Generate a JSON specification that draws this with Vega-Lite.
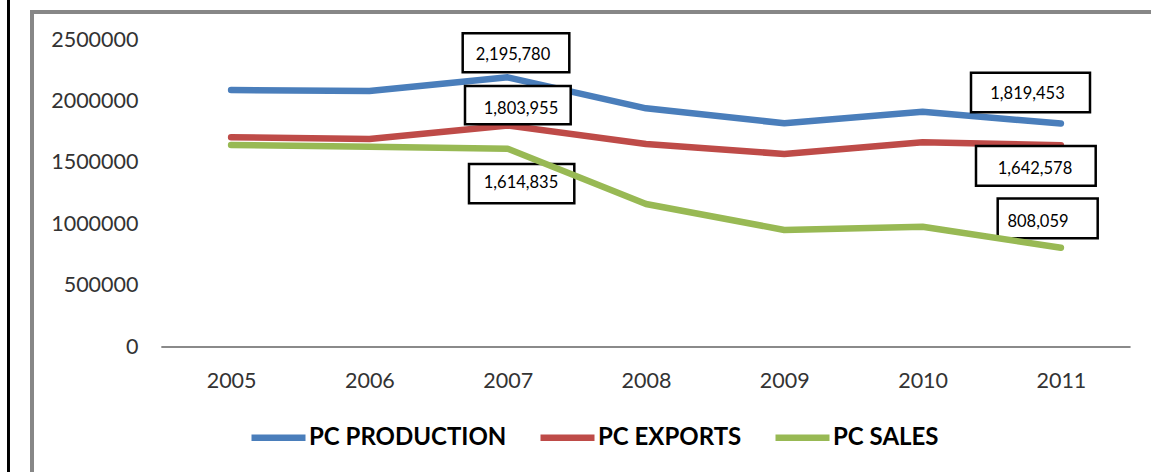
{
  "$schema": "https://vega.github.io/schema/vega-lite/v6.json",
  "autosize": "none",
  "padding": {"left": 32, "top": 12, "right": 0, "bottom": 0},
  "width": 1119,
  "height": 460,
  "background": "white",
  "config": {
    "view": {"stroke": null},
    "axis": {"domain": false, "ticks": false, "grid": false, "labelFont": "Lato", "labelFontSize": 21.5, "labelColor": "#333333", "title": null, "labelPadding": 0}
  },
  "data": {
    "values": [
      {"year": 2005, "series": "PC PRODUCTION", "value": 2092800},
      {"year": 2006, "series": "PC PRODUCTION", "value": 2084700},
      {"year": 2007, "series": "PC PRODUCTION", "value": 2195780},
      {"year": 2008, "series": "PC PRODUCTION", "value": 1943800},
      {"year": 2009, "series": "PC PRODUCTION", "value": 1821700},
      {"year": 2010, "series": "PC PRODUCTION", "value": 1916100},
      {"year": 2011, "series": "PC PRODUCTION", "value": 1819453},
      {"year": 2005, "series": "PC EXPORTS", "value": 1707700},
      {"year": 2006, "series": "PC EXPORTS", "value": 1693800},
      {"year": 2007, "series": "PC EXPORTS", "value": 1803955},
      {"year": 2008, "series": "PC EXPORTS", "value": 1653100},
      {"year": 2009, "series": "PC EXPORTS", "value": 1571700},
      {"year": 2010, "series": "PC EXPORTS", "value": 1666900},
      {"year": 2011, "series": "PC EXPORTS", "value": 1642578},
      {"year": 2005, "series": "PC SALES", "value": 1645000},
      {"year": 2006, "series": "PC SALES", "value": 1631100},
      {"year": 2007, "series": "PC SALES", "value": 1614835},
      {"year": 2008, "series": "PC SALES", "value": 1164500},
      {"year": 2009, "series": "PC SALES", "value": 952800},
      {"year": 2010, "series": "PC SALES", "value": 979600},
      {"year": 2011, "series": "PC SALES", "value": 808059}
    ]
  },
  "encoding": {
    "x": {"field": "year", "type": "quantitative",
      "scale": {"domain": [2003.5604, 2011.6515], "nice": false, "zero": false},
      "axis": {"orient": "bottom", "offset": -91, "values": [2005, 2006, 2007, 2008, 2009, 2010, 2011], "format": "d", "labelBaseline": "middle", "labelFlush": false, "labelOverlap": false}},
    "y": {"field": "value", "type": "quantitative",
      "scale": {"domain": [-1017915, 2728013], "nice": false, "zero": false},
      "axis": {"orient": "left", "offset": -106, "values": [0, 500000, 1000000, 1500000, 2000000, 2500000], "format": "d", "labelFlush": false, "labelOverlap": false}}
  },
  "layer": [
    {
      "mark": {"type": "rule", "stroke": "#000000", "strokeWidth": 2, "clip": false},
      "encoding": {
        "x": {"datum": 2003.388},
        "y": {"datum": 2830000},
        "y2": {"datum": -1017915}
      }
    },
    {
      "mark": {"type": "rule", "stroke": "#878787", "strokeWidth": 4, "strokeCap": "square"},
      "encoding": {
        "x": {"datum": 2003.5604},
        "y": {"datum": 2728013},
        "y2": {"datum": -1017915}
      }
    },
    {
      "mark": {"type": "rule", "stroke": "#878787", "strokeWidth": 4, "strokeCap": "square"},
      "encoding": {
        "x": {"datum": 2003.5604},
        "x2": {"datum": 2011.6515},
        "y": {"datum": 2728013}
      }
    },
    {
      "mark": {"type": "rule", "stroke": "#8a8a8a", "strokeWidth": 1.5},
      "encoding": {
        "x": {"datum": 2004.5},
        "x2": {"datum": 2011.5},
        "y": {"datum": 0}
      }
    },
    {
      "transform": [{"filter": "datum.series !== 'PC SALES'"}],
      "mark": {"type": "line", "strokeWidth": 6.5, "strokeCap": "round", "strokeJoin": "round"},
      "encoding": {
        "color": {"field": "series", "type": "nominal",
          "scale": {"domain": ["PC PRODUCTION", "PC EXPORTS", "PC SALES"], "range": ["#4A7EBB", "#BE4B48", "#98B954"]},
          "legend": {"orient": "none", "legendX": 216, "legendY": 395, "direction": "horizontal", "columns": 3, "title": null,
            "symbolType": "stroke", "symbolSize": 2916, "symbolStrokeWidth": 6.5, "labelFont": "Lato", "labelFontSize": 24,
            "labelFontWeight": "bold", "labelColor": "#000000", "labelOffset": 0, "labelLimit": 0, "columnPadding": 20, "padding": 0}}
      }
    },
    {
      "transform": [{"filter": "datum.year === 2007 && datum.series === 'PC PRODUCTION'"}],
      "layer": [
        {"mark": {"type": "point", "shape": "M-0.9,-0.882L1.232,-0.882L1.232,-0.102L-0.9,-0.102Z", "size": 10000, "filled": true, "fill": "white", "stroke": "black", "strokeWidth": 2.5, "opacity": 1}},
        {"mark": {"type": "text", "font": "Lato", "fontSize": 16.5, "color": "#000000", "dx": 5.3, "dy": -22.1, "align": "center", "baseline": "middle"},
          "encoding": {"text": {"field": "value", "type": "quantitative", "format": ",d"}}}
      ]
    },
    {
      "transform": [{"filter": "datum.year === 2007 && datum.series === 'PC EXPORTS'"}],
      "layer": [
        {"mark": {"type": "point", "shape": "M-0.854,-0.79L1.26,-0.79L1.26,-0.024L-0.854,-0.024Z", "size": 10000, "filled": true, "fill": "white", "stroke": "black", "strokeWidth": 2.5, "opacity": 1}},
        {"mark": {"type": "text", "font": "Lato", "fontSize": 16.5, "color": "#000000", "dx": 13.3, "dy": -16.5, "align": "center", "baseline": "middle"},
          "encoding": {"text": {"field": "value", "type": "quantitative", "format": ",d"}}}
      ]
    },
    {
      "transform": [{"filter": "datum.year === 2007 && datum.series === 'PC SALES'"}],
      "layer": [
        {"mark": {"type": "point", "shape": "M-0.774,0.306L1.332,0.306L1.332,1.092L-0.774,1.092Z", "size": 10000, "filled": true, "fill": "white", "stroke": "black", "strokeWidth": 2.5, "opacity": 1}},
        {"mark": {"type": "text", "font": "Lato", "fontSize": 16.5, "color": "#000000", "dx": 13.3, "dy": 34.6, "align": "center", "baseline": "middle"},
          "encoding": {"text": {"field": "value", "type": "quantitative", "format": ",d"}}}
      ]
    },
    {
      "transform": [{"filter": "datum.year === 2011 && datum.series === 'PC PRODUCTION'"}],
      "layer": [
        {"mark": {"type": "point", "shape": "M-1.798,-1.018L0.582,-1.018L0.582,-0.226L-1.798,-0.226Z", "size": 10000, "filled": true, "fill": "white", "stroke": "black", "strokeWidth": 2.5, "opacity": 1}},
        {"mark": {"type": "text", "font": "Lato", "fontSize": 16.5, "color": "#000000", "dx": -33.4, "dy": -29.3, "align": "center", "baseline": "middle"},
          "encoding": {"text": {"field": "value", "type": "quantitative", "format": ",d"}}}
      ]
    },
    {
      "transform": [{"filter": "datum.year === 2011 && datum.series === 'PC EXPORTS'"}],
      "layer": [
        {"mark": {"type": "point", "shape": "M-1.698,0.014L0.696,0.014L0.696,0.808L-1.698,0.808Z", "size": 10000, "filled": true, "fill": "white", "stroke": "black", "strokeWidth": 2.5, "opacity": 1}},
        {"mark": {"type": "text", "font": "Lato", "fontSize": 16.5, "color": "#000000", "dx": -25.9, "dy": 23.7, "align": "center", "baseline": "middle"},
          "encoding": {"text": {"field": "value", "type": "quantitative", "format": ",d"}}}
      ]
    },
    {
      "transform": [{"filter": "datum.year === 2011 && datum.series === 'PC SALES'"}],
      "layer": [
        {"mark": {"type": "point", "shape": "M-1.264,-0.984L0.736,-0.984L0.736,-0.19L-1.264,-0.19Z", "size": 10000, "filled": true, "fill": "white", "stroke": "black", "strokeWidth": 2.5, "opacity": 1}},
        {"mark": {"type": "text", "font": "Lato", "fontSize": 16.5, "color": "#000000", "dx": -22.9, "dy": -25.5, "align": "center", "baseline": "middle"},
          "encoding": {"text": {"field": "value", "type": "quantitative", "format": ",d"}}}
      ]
    },
    {
      "transform": [{"filter": "datum.series === 'PC SALES'"}],
      "mark": {"type": "line", "strokeWidth": 6.5, "strokeCap": "round", "strokeJoin": "round"},
      "encoding": {
        "color": {"field": "series", "type": "nominal",
          "scale": {"domain": ["PC PRODUCTION", "PC EXPORTS", "PC SALES"], "range": ["#4A7EBB", "#BE4B48", "#98B954"]}}
      }
    }
  ]
}
